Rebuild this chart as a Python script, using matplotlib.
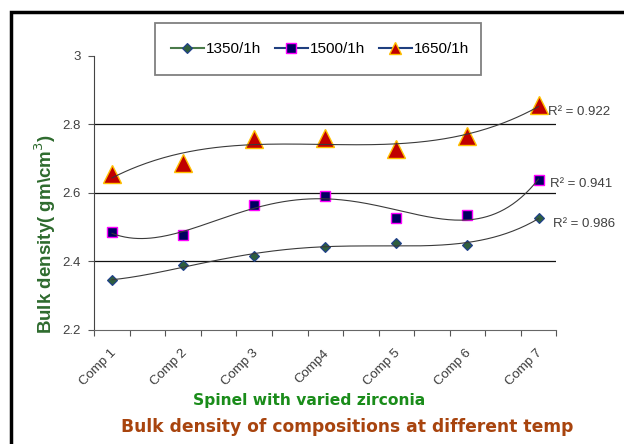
import numpy as np
import matplotlib
matplotlib.use("Agg")
import matplotlib.pyplot as plt
from matplotlib.lines import Line2D
from matplotlib.patches import Rectangle

# bulk density (gm/cm3) per composition, three firing schedules
comps = ["Comp 1", "Comp 2", "Comp 3", "Comp4", "Comp 5", "Comp 6", "Comp 7"]
bd_1350 = [2.345, 2.39, 2.415, 2.442, 2.455, 2.448, 2.527]
bd_1500 = [2.485, 2.477, 2.566, 2.591, 2.528, 2.537, 2.637]
bd_1650 = [2.655, 2.687, 2.757, 2.761, 2.728, 2.767, 2.857]
r2_labels = ["R\u00b2 = 0.986", "R\u00b2 = 0.941", "R\u00b2 = 0.922"]
yticks = [2.2, 2.4, 2.6, 2.8, 3.0]

plt.rcParams['font.family'] = ['DejaVu Sans']

fig = plt.figure(figsize=(6.24, 4.44), dpi=100)
ax = fig.add_axes([0.1511, 0.2568, 0.7404, 0.6171])

x = np.arange(len(comps))
xs = np.linspace(0, len(comps) - 1, 200)

series = [
    (bd_1350, dict(marker='D', ms=5, mfc='#2e5e3e', mec='#1f3f8f', mew=0.8), 4),
    (bd_1500, dict(marker='s', ms=7, mfc='#000060', mec='#ff00ff', mew=1.0), 4),
    (bd_1650, dict(marker='^', ms=13, mfc='#c00000', mec='#ffc000', mew=1.0), 3),
]

for vals, style, deg in series:
    ax.plot(x, vals, linestyle='none', zorder=3, **style)
    # polynomial trendline
    p = np.polyfit(x, vals, deg)
    ax.plot(xs, np.polyval(p, xs), color='#3a3a3a', lw=0.8, zorder=4)

for yv in [2.4, 2.6, 2.8]:
    ax.axhline(yv, color='#111111', lw=0.9, zorder=1)

ax.set_xlim(-0.25, 6.25)
ax.set_ylim(2.2, 3.0)
ax.set_yticks(yticks)
ax.set_yticklabels(["2.2", "2.4", "2.6", "2.8", "3"])
ax.set_xticks(np.arange(-0.25, 6.3, 0.5))
ax.set_xticklabels([])
ax.tick_params(axis='both', direction='out', length=4, color='#555555',
               labelsize=9.5, labelcolor='#404040')
ax.tick_params(axis='y', pad=6)
for lab in ax.get_yticklabels():
    lab.set_family('Liberation Sans')
for s in ['top', 'right']:
    ax.spines[s].set_visible(False)
ax.spines['left'].set_color('#444444')
ax.spines['bottom'].set_color('#666666')

# category labels, rotated
for i, c in enumerate(comps):
    ax.text(i - 0.03, 2.15, c, rotation=45, ha='right', va='top',
            fontsize=9.5, color='#3a3a3a', rotation_mode='anchor',
            family='Liberation Sans')

# R squared labels near the last point of each trendline
r2_pos = [(553, 224), (550, 184), (548, 112)]
for (px, py), lab in zip(r2_pos, r2_labels):
    fig.text(px / 624, 1 - py / 444, lab, fontsize=9.5, color='#404040',
             ha='left', va='center', family='Liberation Sans')

handles = [
    Line2D([], [], color='#4a7a4a', lw=1.5, **series[0][1]),
    Line2D([], [], color='#1f3f7f', lw=1.5, **series[1][1]),
    Line2D([], [], color='#1f3f7f', lw=1.5, marker='^', ms=9, mfc='#c00000',
           mec='#ffc000', mew=1.0),
]
leg = fig.legend(handles, ["1350/1h", "1500/1h", "1650/1h"], ncol=3,
                 loc='center', bbox_to_anchor=(320 / 624, 1 - 49 / 444),
                 frameon=False, prop={'family': 'Liberation Sans', 'size': 11},
                 handlelength=2.15, handletextpad=0.15, columnspacing=0.9)
# legend box
fig.patches.append(Rectangle((155 / 624, 1 - 75 / 444), 326 / 624, 52 / 444,
                             transform=fig.transFigure, fill=False,
                             edgecolor='#808080', lw=1.3))

fig.text(45 / 624, 1 - 234 / 444, "Bulk density( gm\\cm$^3$)", rotation=90,
         ha='center', va='center', fontsize=13.5, fontweight='bold',
         color='#2e6b2e', family='Liberation Sans')
fig.text(309 / 624, 1 - 400 / 444, "Spinel with varied zirconia",
         ha='center', va='center', fontsize=11.2, fontweight='bold',
         color='#1a8c1a')
fig.text(347 / 624, 1 - 427 / 444, "Bulk density of compositions at different temp",
         ha='center', va='center', fontsize=12.3, fontweight='bold',
         color='#a8440e')

# outer frame: only the left and top edges fall inside the image
fig.patches.append(Rectangle((11 / 624, -0.1), 1.2, 1 - 12 / 444 + 0.1,
                             transform=fig.transFigure, fill=False,
                             edgecolor='black', lw=2.5))

fig.savefig("out.png", dpi=100)
